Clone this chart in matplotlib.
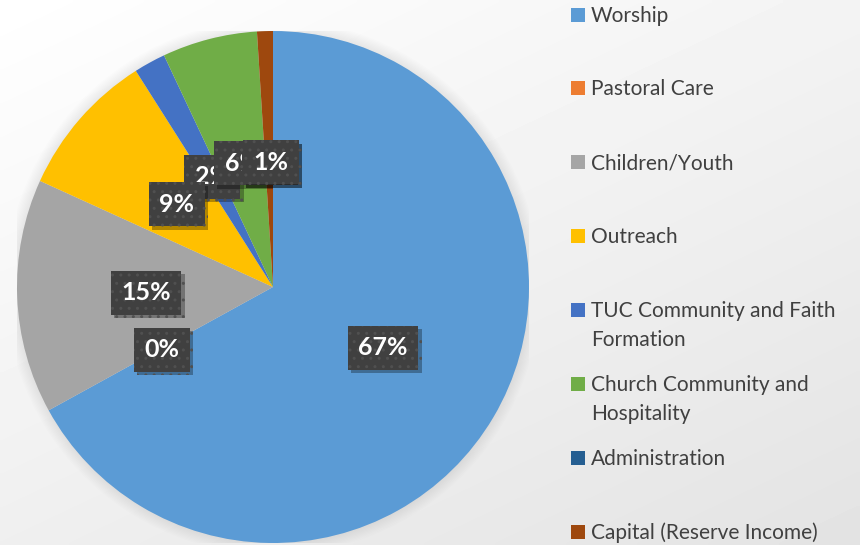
import numpy as np
import matplotlib
matplotlib.use("Agg")
from matplotlib import pyplot as plt
from matplotlib.patches import Rectangle, Circle
from matplotlib import patheffects

categories = ["Worship", "Pastoral Care", "Children/Youth", "Outreach",
              "TUC Community and Faith\nFormation", "Church Community and\nHospitality",
              "Administration", "Capital (Reserve Income)"]
shares = [67.0, 0.0, 14.8, 9.2, 2.0, 6.0, 0.0, 1.0]
colors = ["#5B9BD5", "#ED7D31", "#A5A5A5", "#FFC000",
          "#4472C4", "#70AD47", "#255E91", "#9E480E"]

# label box centres, in pie radius units (Excel "best fit" placement)
label_pos = [(0.43, -0.238), (-0.434, -0.246), (-0.496, -0.023), (-0.375, 0.324),
             (-0.238, 0.430), (-0.121, 0.484), (-0.01, 0.486), (-0.008, 0.488)]
label_z = [10, 10, 10, 12, 11, 13, 14, 15]

W, H = 860, 545
fig = plt.figure(figsize=(W / 100, H / 100), dpi=100)

# background gradient
bg = fig.add_axes([0, 0, 1, 1], zorder=-10)
xx, yy = np.meshgrid(np.linspace(0, 1, 200), np.linspace(0, 1, 130))
grad = 1 - (12 * xx + 16 * yy) / 255
bg.imshow(grad, cmap="gray", vmin=0, vmax=1, aspect="auto", extent=(0, 1, 0, 1),
          origin="upper", interpolation="bilinear")
bg.axis("off")

cx, cy, r = 273, 287, 256
ax = fig.add_axes([(cx - r) / W, (H - cy - r) / H, 2 * r / W, 2 * r / H])
ax.set_facecolor("none")

# soft shadow round the pie
for k in range(10):
    ax.add_patch(Circle((0, 0), 1.0 + k * 0.005, facecolor="black", alpha=0.009,
                        edgecolor="none", zorder=0))

wedges, texts, autotexts = ax.pie(shares, colors=colors, startangle=90, counterclock=False,
                                  autopct="%.0f%%", radius=1.0,
                                  wedgeprops=dict(linewidth=0, zorder=1))
ax.set_xlim(-1, 1)
ax.set_ylim(-1, 1)
ax.set_aspect("equal")
ax.axis("off")

for t, (px, py), z in zip(autotexts, label_pos, label_z):
    t.set_position((px, py))
    t.set_fontfamily("Lato")
    t.set_fontweight("bold")
    t.set_fontsize(18)
    t.set_color("white")
    t.set_zorder(z)
    t.set_bbox(dict(boxstyle="square,pad=0.42", facecolor="#404040", edgecolor="#505050",
                    linewidth=0, hatch=".."))
    t.get_bbox_patch().set_path_effects([
        patheffects.withSimplePatchShadow(offset=(2.5, -2.5), shadow_rgbFace="black", alpha=0.3),
        patheffects.Normal()])

# legend drawn by hand, Excel style
for i, (lab, c) in enumerate(zip(categories, colors)):
    ymid = 14.5 + 73.9 * i
    fig.add_artist(Rectangle((571 / W, 1 - (ymid + 7) / H), 14 / W, 14 / H,
                             transform=fig.transFigure, facecolor=c, edgecolor="none"))
    for j, line in enumerate(lab.split("\n")):
        fig.text(591 / W, 1 - (ymid + 7 + 29 * j) / H, line, fontfamily="Lato",
                 fontsize=15, color="#404040", va="baseline", ha="left")

fig.savefig("out.png", dpi=100)
